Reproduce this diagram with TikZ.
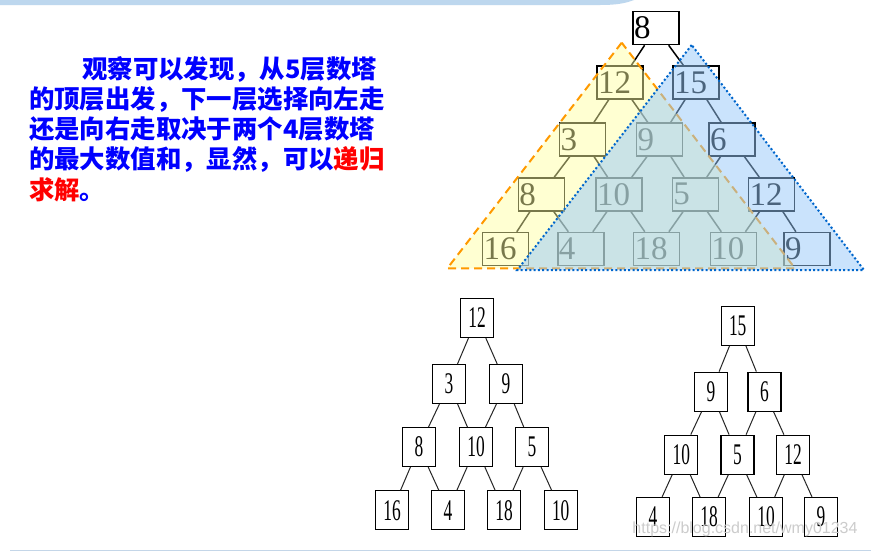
\documentclass[tikz,border=0pt]{standalone}
\usepackage{fontspec}
\setmainfont{Liberation Serif}
\newfontfamily\cjk{Noto Sans CJK SC}
\newfontfamily\narrowserif{Liberation Serif}[FakeStretch=0.58]
\newfontfamily\wmfont{Liberation Sans}
\definecolor{bandblue}{RGB}{189,215,238}
\definecolor{lineblue}{RGB}{196,214,232}
\definecolor{txtblue}{RGB}{0,0,255}
\definecolor{txtred}{RGB}{255,0,0}
\definecolor{yfill}{RGB}{255,255,160}
\definecolor{bfill}{RGB}{150,200,250}
\definecolor{dashorange}{RGB}{255,153,0}
\definecolor{dotblue}{RGB}{0,102,204}
\begin{document}
\begin{tikzpicture}[x=1pt,y=-1pt,
  bigbox/.style={draw, line width=1.5pt, rectangle, minimum height=33pt,
    text width=44pt, inner xsep=1pt, inner ysep=0pt, align=left,
    font=\fontsize{33}{33}\selectfont},
  bigedge/.style={line width=1.5pt, black},
  smallbox/.style={draw, line width=1.2pt, rectangle, minimum width=33pt,
    minimum height=39pt, inner sep=0pt, font=\narrowserif\fontsize{30}{30}\selectfont},
  smalledge/.style={line width=1pt, black!85},
  cjktext/.style={anchor=base west, inner sep=0pt, text=txtblue,
    font=\cjk\bfseries\fontsize{25.4}{30}\selectfont},
  ytri/.style={fill=yfill, fill opacity=0.47, draw=dashorange, line width=2pt,
    dash pattern=on 8pt off 5pt},
  btri/.style={fill=bfill, fill opacity=0.5, draw=dotblue, line width=2pt,
    dash pattern=on 2pt off 2.3pt}]
\useasboundingbox (0,0) rectangle (871,552);
\fill[white] (0,0) rectangle (871,552);
% top band
\fill[bandblue] (0,0) -- (0,5) -- (600,5) .. controls (618,5) and (626,3) .. (634,0) -- cycle;
% bottom line
\draw[lineblue, line width=1.5pt] (10,550.5) -- (871,550.5);

% text
\node[cjktext] (l1) at (82,78) {观察可以发现，从5层数塔};
\node[cjktext] (l2) at (29,108.3) {的顶层出发，下一层选择向左走};
\node[cjktext] (l3) at (29,138.6) {还是向右走取决于两个4层数塔};
\node[cjktext] (l4) at (29,168.9) {的最大数值和，显然，可以\textcolor{txtred}{递归}};
\node[cjktext] (l5) at (29,199.2) {\textcolor{txtred}{求解}。};

% big tree
\node[bigbox] (t1)  at (656,28) {8};
\node[bigbox] (t21) at (620,82.5) {12};
\node[bigbox] (t22) at (696,82.5) {15};
\node[bigbox] (t31) at (582.7,139.5) {3};
\node[bigbox] (t32) at (659.7,139.5) {9};
\node[bigbox] (t33) at (732,139.5) {6};
\node[bigbox] (t41) at (541.3,194.3) {8};
\node[bigbox] (t42) at (619,194.3) {10};
\node[bigbox] (t43) at (695.3,194.3) {5};
\node[bigbox] (t44) at (771.7,194.3) {12};
\node[bigbox] (t51) at (505.5,249) {16};
\node[bigbox] (t52) at (580.8,249) {4};
\node[bigbox] (t53) at (656.7,249) {18};
\node[bigbox] (t54) at (733.3,249) {10};
\node[bigbox] (t55) at (807,249) {9};
\draw[bigedge] (t1) -- (t21);  \draw[bigedge] (t1) -- (t22);
\draw[bigedge] (t21) -- (t31); \draw[bigedge] (t21) -- (t32);
\draw[bigedge] (t22) -- (t32); \draw[bigedge] (t22) -- (t33);
\draw[bigedge] (t31) -- (t41); \draw[bigedge] (t31) -- (t42);
\draw[bigedge] (t32) -- (t42); \draw[bigedge] (t32) -- (t43);
\draw[bigedge] (t33) -- (t43); \draw[bigedge] (t33) -- (t44);
\draw[bigedge] (t41) -- (t51); \draw[bigedge] (t41) -- (t52);
\draw[bigedge] (t42) -- (t52); \draw[bigedge] (t42) -- (t53);
\draw[bigedge] (t43) -- (t53); \draw[bigedge] (t43) -- (t54);
\draw[bigedge] (t44) -- (t54); \draw[bigedge] (t44) -- (t55);

% overlay triangles
\coordinate (ya) at (621.7,42.7);
\coordinate (yb) at (447.3,268.3);
\coordinate (yc) at (795,268.3);
\draw[ytri] (ya) -- (yb) -- (yc) -- cycle;
\coordinate (ba) at (691.7,45);
\coordinate (bb) at (517.3,270);
\coordinate (bc) at (864,270);
\draw[btri] (ba) -- (bb) -- (bc) -- cycle;

% left sub-tower
\node[smallbox] (a1)  at (477,318) {12};
\node[smallbox] (a21) at (449,384) {3};
\node[smallbox] (a22) at (506,384) {9};
\node[smallbox] (a31) at (419,447) {8};
\node[smallbox] (a32) at (476,447) {10};
\node[smallbox] (a33) at (532,447) {5};
\node[smallbox] (a41) at (392,510.3) {16};
\node[smallbox] (a42) at (448,510.3) {4};
\node[smallbox] (a43) at (504,510.3) {18};
\node[smallbox] (a44) at (560.7,510.3) {10};
\draw[smalledge] (a1) -- (a21);  \draw[smalledge] (a1) -- (a22);
\draw[smalledge] (a21) -- (a31); \draw[smalledge] (a21) -- (a32);
\draw[smalledge] (a22) -- (a32); \draw[smalledge] (a22) -- (a33);
\draw[smalledge] (a31) -- (a41); \draw[smalledge] (a31) -- (a42);
\draw[smalledge] (a32) -- (a42); \draw[smalledge] (a32) -- (a43);
\draw[smalledge] (a33) -- (a43); \draw[smalledge] (a33) -- (a44);

% right sub-tower
\node[smallbox] (b1)  at (737.7,325.7) {15};
\node[smallbox] (b21) at (711,391.7) {9};
\node[smallbox] (b22) at (764.5,391.7) {6};
\node[smallbox] (b31) at (681.3,454.7) {10};
\node[smallbox] (b32) at (737.5,454.7) {5};
\node[smallbox] (b33) at (793,454.7) {12};
\node[smallbox] (b41) at (653,517) {4};
\node[smallbox] (b42) at (709,517) {18};
\node[smallbox] (b43) at (766,517) {10};
\node[smallbox] (b44) at (821,517) {9};
\draw[smalledge] (b1) -- (b21);  \draw[smalledge] (b1) -- (b22);
\draw[smalledge] (b21) -- (b31); \draw[smalledge] (b21) -- (b32);
\draw[smalledge] (b22) -- (b32); \draw[smalledge] (b22) -- (b33);
\draw[smalledge] (b31) -- (b41); \draw[smalledge] (b31) -- (b42);
\draw[smalledge] (b32) -- (b42); \draw[smalledge] (b32) -- (b43);
\draw[smalledge] (b33) -- (b43); \draw[smalledge] (b33) -- (b44);

% watermark
\node[inner sep=0pt, text=black!20, font=\wmfont\fontsize{16}{16}\selectfont] (wm) at (745,529) {https://blog.csdn.net/wmy01234};
\end{tikzpicture}
\end{document}
